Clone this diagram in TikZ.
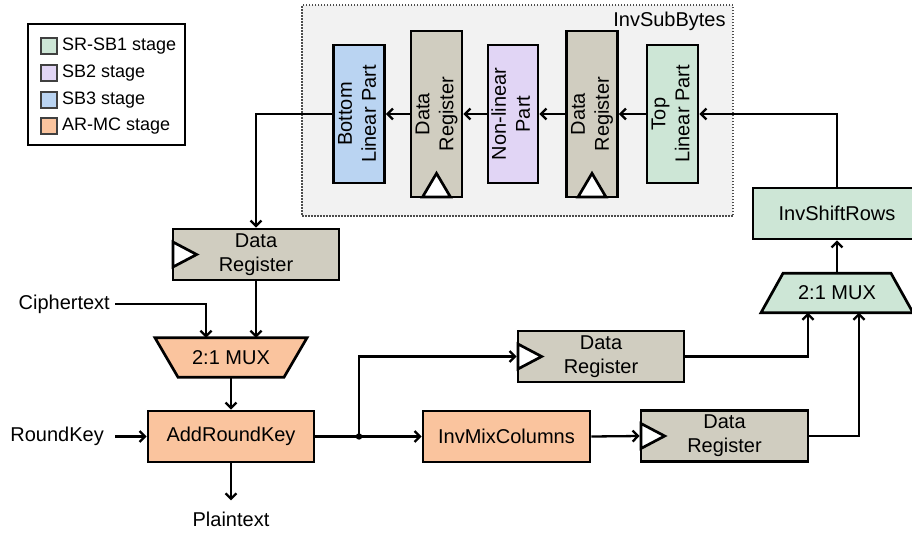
\documentclass[tikz,border=0pt]{standalone}
\usepackage{fontspec}
\setmainfont{Liberation Sans}
\usetikzlibrary{arrows.meta,backgrounds}

\definecolor{srsb}{RGB}{205,230,214}
\definecolor{sbtwo}{RGB}{225,213,245}
\definecolor{sbthree}{RGB}{186,212,242}
\definecolor{armc}{RGB}{250,196,158}
\definecolor{regfill}{RGB}{208,205,192}
\definecolor{isbfill}{RGB}{242,242,242}

% two-line label turned to read bottom-to-top
\newcommand{\vlabel}[1]{\rotatebox{90}{\begin{tabular}{@{}c@{}}#1\end{tabular}}}

\begin{document}
\begin{tikzpicture}[x=1pt,y=-1pt,
  every node/.style={font=\fontsize{20}{24}\selectfont, inner sep=0pt},
  blk/.style={draw, line width=2.7pt, align=center},
  hblk/.style={blk, minimum width=166pt, minimum height=51pt},
  vblk/.style={blk, minimum width=51pt, minimum height=138pt},
  vreg/.style={blk, fill=regfill, minimum width=51pt, minimum height=166pt},
  hreg/.style={hblk, fill=regfill},
  clk/.style={draw, fill=white, line width=2.7pt, line join=miter},
  mux/.style={minimum width=152pt, minimum height=39pt},
  muxshape/.style={draw, line width=2.7pt, line join=miter},
  wire/.style={line width=2.3pt},
  arr/.style={wire, -{Straight Barb[length=5.5pt,width=11pt]}},
  sw/.style={draw=black!75, line width=1.6pt, minimum size=16pt},
  lgtext/.style={font=\fontsize{18}{20}\selectfont, anchor=west},
]
\useasboundingbox (0,0) rectangle (912,536);
\clip (0,0) rectangle (912,536);

% legend
\node[draw, line width=1.6pt, minimum width=157pt, minimum height=121pt] (legend) at (106.5,84.5) {};
\node[sw, fill=srsb] (swa) at (49,46) {};
\node[lgtext] (lga) at (62,46) {SR-SB1 stage};
\node[sw, fill=sbtwo] (swb) at (49,73) {};
\node[lgtext] (lgb) at (62,73) {SB2 stage};
\node[sw, fill=sbthree] (swc) at (49,100) {};
\node[lgtext] (lgc) at (62,100) {SB3 stage};
\node[sw, fill=armc] (swd) at (49,126) {};
\node[lgtext] (lgd) at (62,126) {AR-MC stage};

% InvSubBytes group
\node[draw=black!70, dash pattern=on 1.5pt off 1.5pt, line width=1.6pt, fill=isbfill,
      minimum width=431pt, minimum height=211pt] (isb) at (517.5,110.5) {};
\node[anchor=north east] (isbname) at ([xshift=-8pt,yshift=-8pt]isb.north east) {InvSubBytes};

\node[vblk, fill=sbthree] (blp) at (359,114) {\vlabel{Bottom\\Linear Part}};
\node[vreg] (dra) at (436.5,114) {\vlabel{Data\\Register}};
\node[vblk, fill=sbtwo, minimum width=50pt] (nlp) at (513,114) {\vlabel{Non-linear\\Part}};
\node[vreg] (drb) at (592,114) {\vlabel{Data\\Register}};
\node[vblk, fill=srsb] (tlp) at (672.5,114) {\vlabel{Top\\Linear Part}};

% datapath blocks
\node[hreg] (rga) at (256,254.5) {Data\\Register};
\node[mux] (mxa) at (231,357.5) {2:1 MUX};
\node[hblk, fill=armc] (ark) at (231,436.5) {AddRoundKey};
\node[hblk, fill=armc, minimum width=167pt] (imc) at (506.5,436.5) {InvMixColumns};
\node[hreg] (rgb) at (601,356.5) {Data\\Register};
\node[hreg, minimum width=167pt] (rgc) at (724.5,436) {Data\\Register};
\node[hblk, fill=srsb, minimum width=168pt] (isr) at (837,213.5) {InvShiftRows};
\node[mux] (mxb) at (837,293) {2:1 MUX};

% multiplexer outlines behind their labels
\begin{scope}[on background layer]
  \draw[muxshape, fill=armc] ([xshift=-76pt]mxa.north) -- ([xshift=76pt]mxa.north)
     -- ([xshift=53pt]mxa.south) -- ([xshift=-53pt]mxa.south) -- cycle;
  \draw[muxshape, fill=srsb] ([xshift=-54pt]mxb.north) -- ([xshift=54pt]mxb.north)
     -- ([xshift=76pt]mxb.south) -- ([xshift=-76pt]mxb.south) -- cycle;
\end{scope}

% clock marks on the registers
\foreach \r in {rga,rgb,rgc}
  \draw[clk] ([xshift=1.3pt,yshift=12.5pt]\r.west) -- ([xshift=25pt]\r.west)
     -- ([xshift=1.3pt,yshift=-12.5pt]\r.west) -- cycle;
\foreach \r in {dra,drb}
  \draw[clk] ([xshift=-14pt,yshift=1.3pt]\r.south) -- ([yshift=25pt]\r.south)
     -- ([xshift=14pt,yshift=1.3pt]\r.south) -- cycle;

% external signals
\node[anchor=east, inner xsep=5pt] (ct) at (115,304) {Ciphertext};
\node[anchor=east, inner xsep=11pt] (rk) at (115,436.5) {RoundKey};
\node[inner ysep=11pt] (pt) at (231,519) {Plaintext};

% connections
\draw[arr] (isr.north) |- (tlp.east);
\draw[arr] (tlp.west) -- (drb.east);
\draw[arr] (drb.west) -- (nlp.east);
\draw[arr] (nlp.west) -- (dra.east);
\draw[arr] (dra.west) -- (blp.east);
\draw[arr] (blp.west) -| (rga.north);
\draw[arr] (ct.east) -| ([xshift=-25pt]mxa.north);
\draw[arr] (rga.south) -- (rga.south |- mxa.north);
\draw[arr] (mxa.south) -- (ark.north);
\draw[arr] (rk.east) -- (ark.west);
\draw[arr] (ark.south) -- (pt.north);
\coordinate (jn) at (359,436.5);
\draw[wire] (ark.east) -- (jn);
\draw[arr] (jn) -- (imc.west);
\draw[arr] (jn) |- (rgb.west);
\fill (jn) circle (3.2pt);
\draw[arr] (imc.east) -- (rgc.west);
\draw[arr] (rgb.east) -| ([xshift=-29pt]mxb.south);
\draw[arr] (rgc.east) -| ([xshift=22pt]mxb.south);
\draw[arr] (mxb.north) -- (isr.south);
\end{tikzpicture}
\end{document}
